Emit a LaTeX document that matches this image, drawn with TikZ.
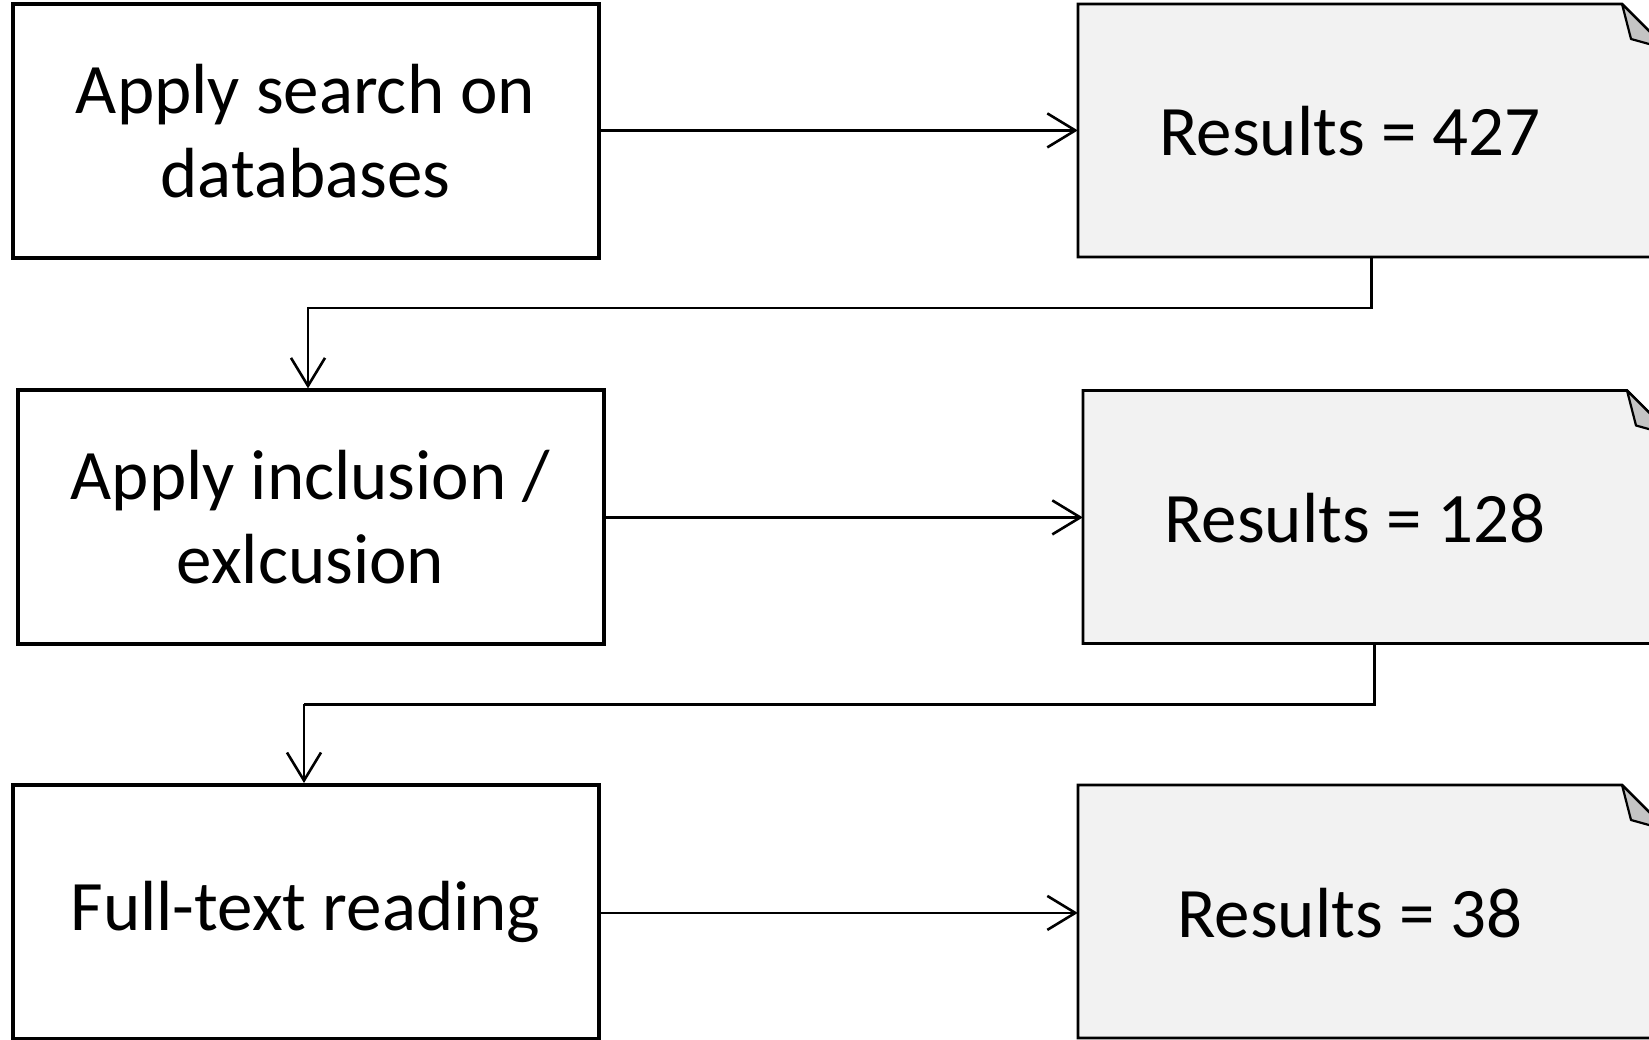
\documentclass[tikz,border=0pt]{standalone}
\usepackage{fontspec}
\setmainfont{Carlito}
\usetikzlibrary{arrows.meta,calc}
\definecolor{notefill}{HTML}{F2F2F2}
\definecolor{foldfill}{HTML}{C4C4C4}
\begin{document}
\begin{tikzpicture}[x=1pt,y=-1pt,
  stepbox/.style={draw=black,line width=4pt,fill=white,minimum width=586pt,minimum height=254pt,
    inner sep=0pt,align=center,font=\fontsize{71}{84}\selectfont},
  notebox/.style={minimum width=544pt,minimum height=253pt,inner sep=0pt,
    font=\fontsize{71}{84}\selectfont},
  noteline/.style={draw=black,line width=2.6pt,fill=notefill,line join=miter},
  foldline/.style={draw=black,line width=2.2pt,fill=foldfill,line join=round},
  conn/.style={draw=black,line width=2.6pt,-{Straight Barb[length=28pt,width=34pt,line width=2.6pt]}},
  elbow/.style={draw=black,line width=2.6pt}]
\useasboundingbox (0,0) rectangle (1649,1040);
\clip (0,0) rectangle (1649,1040);
\fill[white] (0,0) rectangle (1649,1040);

% process boxes
\node[stepbox] (b1) at (305.5,131.5) {Apply search on\\databases};
\node[stepbox] (b2) at (310.5,517.4) {Apply inclusion /\\exlcusion};
\node[stepbox] (b3) at (305.5,912) {Full-text reading};

% note shapes (text area excludes the folded corner)
\foreach \nm/\cx/\cy in {n1/1350/130.5, n2/1355/517, n3/1350/911.5}{
  \path[noteline] (\cx-272,\cy-126.5) -- (\cx+272,\cy-126.5) -- (\cx+317,\cy-81.5)
     -- (\cx+317,\cy+126.5) -- (\cx-272,\cy+126.5) -- cycle;
  \path[foldline] (\cx+272,\cy-126.5) -- (\cx+317,\cy-81.5) -- (\cx+281,\cy-91.5) -- cycle;
}
\node[notebox] (n1) at (1350,131.5) {Results = 427};
\node[notebox] (n2) at (1355,518) {Results = 128};
\node[notebox] (n3) at (1350,913) {Results = 38};

% arrows to results
\draw[conn] (b1.east |- 0,130.4) -- (n1.west |- 0,130.4);
\draw[conn] (b2.east |- 0,517.4) -- (n2.west |- 0,517.4);
\draw[conn] (b3.east |- 0,912.9) -- (n3.west |- 0,912.9);

% elbow connectors to next step
\coordinate (c1) at ([xshift=21.5pt]n1.south);
\coordinate (c2) at ([xshift=19.6pt]n2.south);
\draw[elbow] (c1) -- (c1 |- 0,308) -- (308,308);
\draw[conn] (308,307) -- (308,307 |- b2.north);
\draw[elbow] (c2) -- (c2 |- 0,704.6) -- (304,704.6);
\draw[conn] (304,703.6) -- (304,703.6 |- b3.north);
\end{tikzpicture}
\end{document}
